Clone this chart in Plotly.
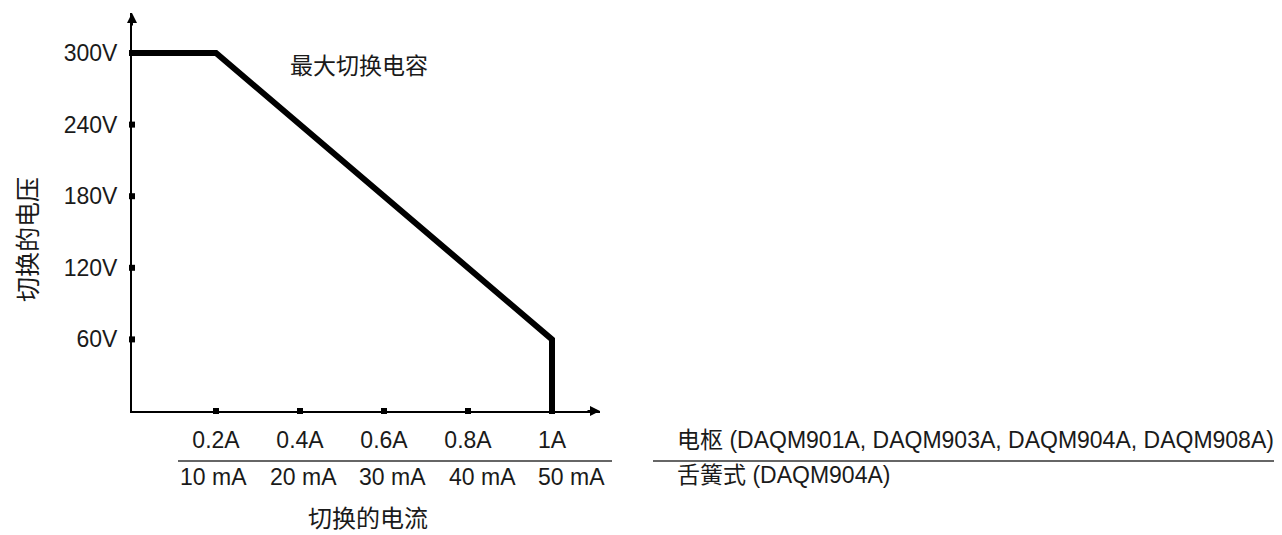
import plotly.graph_objects as go

# data
current_a = [0, 0.2, 1.0, 1.0]
voltage_v = [300, 300, 60, 0]

x_ticks = [0.2, 0.4, 0.6, 0.8, 1.0]
x_labels_armature = ["0.2A", "0.4A", "0.6A", "0.8A", "1A"]
x_labels_reed = ["10 mA", "20 mA", "30 mA", "40 mA", "50 mA"]

y_ticks = [60, 120, 180, 240, 300]
y_labels = ["60V", "120V", "180V", "240V", "300V"]

row_armature = "电枢 (DAQM901A, DAQM903A, DAQM904A, DAQM908A)"
row_reed = "舌簧式 (DAQM904A)"
curve_label = "最大切换电容"
x_title = "切换的电流"
y_title = "切换的电压"

# figure box (the page adds an 8px body margin)
OFF = 8
W, H = 1274, 527
L, R, T, B = 124, 682, 5, 124
PLOT_W = W - L - R
PLOT_H = H - T - B
X_MAX = PLOT_W / 420.0
Y_MAX = PLOT_H / 1.1933

FONT = "Liberation Sans, Arial, Noto Sans CJK SC, sans-serif"
CJK = "Noto Sans CJK SC, sans-serif"
INK = "#1a1a1a"


def px(p):
    # screen pixel x -> paper x
    return (p - OFF - L) / PLOT_W


def py(q):
    # screen pixel y -> paper y
    return (H - B - (q - OFF)) / PLOT_H


fig = go.Figure()

fig.add_trace(go.Scatter(
    x=current_a, y=voltage_v, mode="lines",
    line=dict(color="black", width=6), cliponaxis=False,
    hoverinfo="skip", showlegend=False,
))

# tick dots on the axes
fig.add_trace(go.Scatter(
    x=x_ticks, y=[0] * len(x_ticks), mode="markers",
    marker=dict(symbol="square", size=6, color="black"),
    cliponaxis=False, hoverinfo="skip", showlegend=False,
))
fig.add_trace(go.Scatter(
    x=[0] * len(y_ticks), y=y_ticks, mode="markers",
    marker=dict(symbol="square", size=6, color="black"),
    cliponaxis=False, hoverinfo="skip", showlegend=False,
))

annotations = []

# second row of x labels (reed relay currents)
for i, (xv, lab) in enumerate(zip(x_ticks, x_labels_reed)):
    annotations.append(dict(
        x=xv, y=py(477), xref="x", yref="paper", text=lab,
        showarrow=False, xanchor="center", yanchor="middle",
        xshift=-2.5 + 5.5 * i, font=dict(family=FONT, size=23, color=INK),
    ))

annotations += [
    dict(x=px(675), y=py(440), xref="paper", yref="paper", text=row_armature,
         showarrow=False, xanchor="left", yanchor="middle",
         font=dict(family=FONT, size=23, color=INK)),
    dict(x=px(675), y=py(475), xref="paper", yref="paper", text=row_reed,
         showarrow=False, xanchor="left", yanchor="middle",
         font=dict(family=FONT, size=23, color=INK)),
    dict(x=px(288), y=py(64), xref="paper", yref="paper", text=curve_label,
         showarrow=False, xanchor="left", yanchor="middle",
         font=dict(family=CJK, size=23, color=INK)),
    dict(x=px(368), y=py(516), xref="paper", yref="paper", text=x_title,
         showarrow=False, xanchor="center", yanchor="middle",
         font=dict(family=CJK, size=24, color=INK)),
    dict(x=px(26), y=py(240), xref="paper", yref="paper", text=y_title,
         showarrow=False, xanchor="center", yanchor="middle", textangle=-90,
         font=dict(family=CJK, size=25, color=INK)),
    # axis arrow heads
    dict(x=X_MAX, y=0, xref="x", yref="y", ax=-14, ay=0, text="",
         showarrow=True, arrowhead=2, arrowsize=1, arrowwidth=2, arrowcolor="black"),
    dict(x=0, y=Y_MAX, xref="x", yref="y", ax=0, ay=14, text="",
         showarrow=True, arrowhead=2, arrowsize=1, arrowwidth=2, arrowcolor="black"),
]

shapes = [
    dict(type="line", xref="paper", yref="paper", x0=px(178), x1=px(612),
         y0=py(461), y1=py(461), line=dict(color="#333", width=1.5)),
    dict(type="line", xref="paper", yref="paper", x0=px(653), x1=px(1282),
         y0=py(461), y1=py(461), line=dict(color="#333", width=1.5)),
]

fig.update_xaxes(
    range=[0, X_MAX], showline=True, linecolor="black", linewidth=2,
    showgrid=False, zeroline=False, ticks="",
    tickvals=x_ticks, ticktext=x_labels_armature, ticklabelstandoff=7,
    tickfont=dict(family=FONT, size=23, color=INK),
)
fig.update_yaxes(
    range=[0, Y_MAX], showline=True, linecolor="black", linewidth=2,
    showgrid=False, zeroline=False, ticks="",
    tickvals=y_ticks, ticktext=y_labels, ticklabelstandoff=8,
    tickfont=dict(family=FONT, size=23, color=INK),
)

fig.update_layout(
    width=W, height=H,
    margin=dict(l=L, r=R, t=T, b=B),
    paper_bgcolor="white", plot_bgcolor="white",
    showlegend=False,
    annotations=annotations, shapes=shapes,
)

fig.write_html("out.html")
